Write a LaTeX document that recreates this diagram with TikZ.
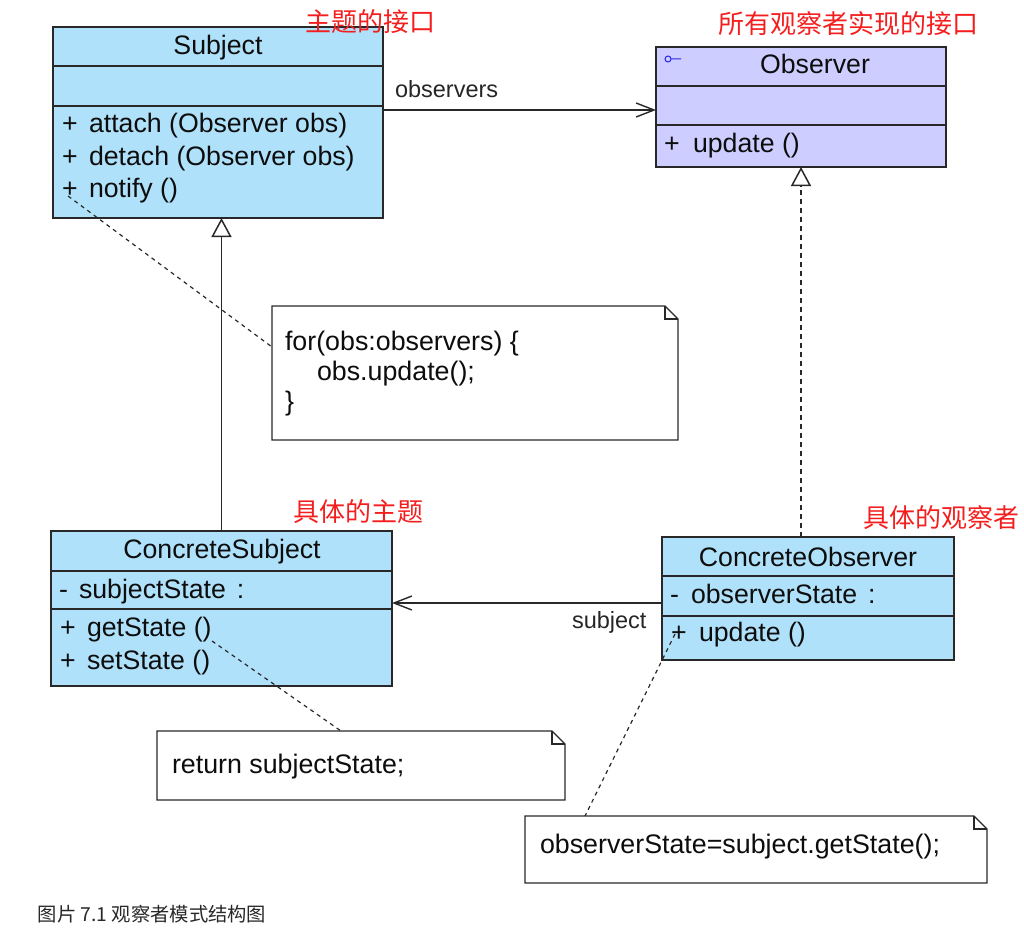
\documentclass[tikz,border=0pt]{standalone}
\usepackage{fontspec}
\setmainfont{Liberation Sans}
\newfontfamily\cjk{Noto Sans CJK SC}
\usetikzlibrary{arrows.meta}
\definecolor{boxblue}{RGB}{176,225,250}
\definecolor{boxlav}{RGB}{205,205,255}
\definecolor{edge}{RGB}{40,40,40}
\definecolor{redlbl}{RGB}{245,30,30}
\definecolor{captxt}{RGB}{40,40,40}
\definecolor{iconblue}{RGB}{40,40,230}
\begin{document}
\begin{tikzpicture}[x=1pt,y=-1pt,
  umlbox/.style={draw=edge, line width=1.5pt, rectangle, inner sep=0pt, outer sep=0pt, anchor=north west},
  sepline/.style={draw=edge, line width=1.3pt},
  txt/.style={inner sep=0pt, outer sep=0pt, anchor=base west, font=\fontsize{26.7}{30}\selectfont, text=black!95},
  ttl/.style={txt, anchor=base},
  notetxt/.style={txt, font=\fontsize{26.8}{30}\selectfont},
  lbl/.style={inner sep=0pt, outer sep=0pt, anchor=base west, font=\fontsize{23.5}{28}\selectfont, text=black!85},
  redlabel/.style={inner sep=0pt, outer sep=0pt, text=redlbl, font=\cjk\fontsize{26}{30}\selectfont},
  notebox/.style={inner sep=0pt, outer sep=0pt, anchor=north west},
  notepath/.style={draw=edge, line width=1.3pt, fill=white},
  link/.style={draw=edge, line width=1.2pt, dash pattern=on 4pt off 4pt},
  assoc/.style={draw=edge, line width=1.4pt, -{Straight Barb[length=18pt,width=14pt]}},
  gen/.style={draw=edge, line width=1.5pt, -{Triangle[open,fill=white,length=19pt,width=20pt]}},
]
\useasboundingbox (0,0) rectangle (1024,936);

% ---------- class boxes ----------
\node[umlbox, fill=boxblue, minimum width=330pt, minimum height=191pt] (subj) at (53,27) {};
\draw[sepline] (subj.west |- 0,66) -- (subj.east |- 0,66);
\draw[sepline] (subj.west |- 0,106) -- (subj.east |- 0,106);

\node[umlbox, fill=boxlav, minimum width=290pt, minimum height=120pt] (obs) at (656,47) {};
\draw[sepline] (obs.west |- 0,86) -- (obs.east |- 0,86);
\draw[sepline] (obs.west |- 0,125) -- (obs.east |- 0,125);

\node[umlbox, fill=boxblue, minimum width=341pt, minimum height=155pt] (cs) at (51,531) {};
\draw[sepline] (cs.west |- 0,571) -- (cs.east |- 0,571);
\draw[sepline] (cs.west |- 0,609) -- (cs.east |- 0,609);

\node[umlbox, fill=boxblue, minimum width=292pt, minimum height=123pt] (co) at (662,537) {};
\draw[sepline] (co.west |- 0,576) -- (co.east |- 0,576);
\draw[sepline] (co.west |- 0,616) -- (co.east |- 0,616);

% ---------- box texts ----------
\node[ttl] (subjT) at (218,55) {Subject};
\node[txt] (s1p) at (62,133) {+};
\node[txt] (s1) at (89,133) {attach (Observer obs)};
\node[txt] (s2p) at (62,165) {+};
\node[txt] (s2) at (89,165) {detach (Observer obs)};
\node[txt] (s3p) at (62,197) {+};
\node[txt] (s3) at (89,197) {notify ()};

\draw[iconblue, line width=1pt] (668,59) circle (3pt) (671,59) -- (681,59);
\node[ttl] (obsT) at (815,74) {Observer};
\node[txt] (o1p) at (664,153) {+};
\node[txt] (o1) at (693,153) {update ()};

\node[ttl] (csT) at (222,558) {ConcreteSubject};
\node[txt] (c1p) at (59,598) {-};
\node[txt] (c1) at (79,598) {subjectState\hspace{11pt}:};
\node[txt] (c2p) at (60,636) {+};
\node[txt] (c2) at (87,636) {getState ()};
\node[txt] (c3p) at (60,669) {+};
\node[txt] (c3) at (87,669) {setState ()};

\node[ttl] (coT) at (808,566) {ConcreteObserver};
\node[txt] (d1p) at (670,603) {-};
\node[txt] (d1) at (691,603) {observerState\hspace{11pt}:};
\node[txt] (d2p) at (671,641) {+};
\node[txt] (d2) at (699,641) {update ()};

% ---------- relations ----------
\coordinate (a1) at (subj.east |- 0,110);
\draw[assoc] (a1) -- (a1 -| obs.west);
\node[lbl] (obsLbl) at (395,98) {observers};

\coordinate (a2) at (co.west |- 0,603);
\draw[assoc] (a2) -- (a2 -| cs.east);
\node[lbl] (subLbl) at (572,628) {subject};

\draw[gen] (cs.north) -- (cs.north |- subj.south);
\draw[gen, dash pattern=on 5pt off 4pt] (obs.south |- co.north) -- (obs.south);

% ---------- notes ----------
\node[notebox, minimum width=406pt, minimum height=134pt] (n1) at (272,306) {};
\node[notebox, minimum width=408pt, minimum height=69pt] (n2) at (157,731) {};
\node[notebox, minimum width=462pt, minimum height=67pt] (n3) at (525,816) {};

\coordinate (p1) at (68,196);
\draw[link] (p1) -- (n1.west |- 0,347);
\coordinate (p2) at (212,641);
\draw[link] (p2) -- (n2.north -| 341,0);
\coordinate (p3) at (675,634);
\draw[link] (p3) -- (n3.north -| 585,0);

\foreach \n in {n1,n2,n3}{
  \draw[notepath] (\n.north west) -- ([xshift=-13pt]\n.north east) -- ([yshift=-13pt]\n.north east) -- (\n.south east) -- (\n.south west) -- cycle;
  \draw[notepath, fill=none] ([xshift=-13pt]\n.north east) |- ([yshift=-13pt]\n.north east);
}

\node[notetxt] (n1a) at (285,350) {for(obs:observers) \{};
\node[notetxt] (n1b) at (317,380) {obs.update();};
\node[notetxt] (n1c) at (285,410) {\}};
\node[notetxt] (n2a) at (172,773) {return subjectState;};
\node[notetxt] (n3a) at (540,853) {observerState=subject.getState();};

% ---------- red annotations ----------
\node[redlabel] (r1) at (370,22) {主题的接口};
\node[redlabel] (r2) at (848,24) {所有观察者实现的接口};
\node[redlabel] (r3) at (358,512) {具体的主题};
\node[redlabel] (r4) at (941,518) {具体的观察者};

% ---------- caption ----------
\node[inner sep=0pt, text=captxt, font=\cjk\fontsize{19.3}{22}\selectfont] (cap) at (152,914) {图片 7.1 观察者模式结构图};
\end{tikzpicture}
\end{document}
